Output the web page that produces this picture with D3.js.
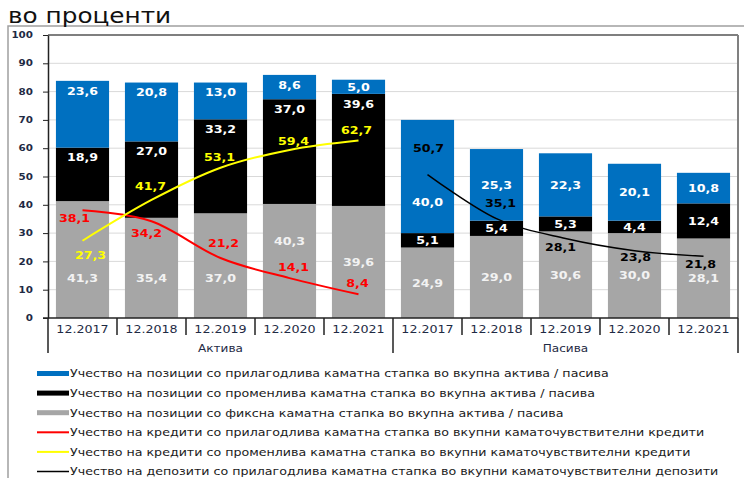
<!DOCTYPE html>
<html>
<head>
<meta charset="utf-8">
<script src="https://cdn.jsdelivr.net/npm/d3@7"></script>
<style>
  body { margin: 0; background: #fff; }
  svg { display: block; font-family: "DejaVu Sans", Verdana, sans-serif; }
</style>
</head>
<body>
<svg id="chart" width="744" height="478"></svg>
<script>
// categories
var periods = ["12.2017", "12.2018", "12.2019", "12.2020", "12.2021"]
var groups = ["Актива", "Пасива"]

// bars, assets
var fixedA = [41.3, 35.4, 37.0, 40.3, 39.6]
var variableA = [18.9, 27.0, 33.2, 37.0, 39.6]
var adjustableA = [23.6, 20.8, 13.0, 8.6, 5.0]
// bars, liabilities
var fixedP = [24.9, 29.0, 30.6, 30.0, 28.1]
var variableP = [5.1, 5.4, 5.3, 4.4, 12.4]
var adjustableP = [40.0, 25.3, 22.3, 20.1, 10.8]

// lines
var loansAdjustable = [38.1, 34.2, 21.2, 14.1, 8.4]
var loansVariable = [27.3, 41.7, 53.1, 59.4, 62.7]
var depositsAdjustable = [50.7, 35.1, 28.1, 23.8, 21.8]

var yTicks = [0, 10, 20, 30, 40, 50, 60, 70, 80, 90, 100]

var legendLabels = [
  "Учество на позиции со прилагодлива каматна стапка во вкупна актива / пасива",
  "Учество на позиции со променлива каматна стапка во вкупна актива / пасива",
  "Учество на позиции со фиксна каматна стапка во вкупна актива / пасива",
  "Учество на кредити со прилагодлива каматна стапка во вкупни каматочувствителни кредити",
  "Учество на кредити со променлива каматна стапка во вкупни каматочувствителни кредити",
  "Учество на депозити со прилагодлива каматна стапка во вкупни каматочувствителни депозити"
]

var colors = { fixed: "#a6a6a6", variable: "#000000", adjustable: "#0070c0" }

drawChart()

function drawChart() {
  var svg = d3.select("#chart")
  var SX = 1.15   // the source image is stretched a bit horizontally
  var plotLeft = 48, plotRight = 738, plotTop = 35, plotBottom = 318

  var fmt = function(v) { return d3.format(".1f")(v).replace(".", ",") }

  function txt(sel, x, y, str, size, weight, fill, anchor) {
    return sel.append("text")
      .attr("transform", "translate(" + x + "," + y + ") scale(" + SX + ",1)")
      .attr("text-anchor", anchor || "middle")
      .attr("dy", "0.35em")
      .style("font-size", size + "px")
      .style("font-weight", weight)
      .attr("fill", fill)
      .text(str)
  }

  var rows = []
  periods.forEach(function(p, i) {
    rows.push({ i: rows.length, group: 0, fixed: fixedA[i], variable: variableA[i], adjustable: adjustableA[i] })
  })
  periods.forEach(function(p, i) {
    rows.push({ i: rows.length, group: 1, fixed: fixedP[i], variable: variableP[i], adjustable: adjustableP[i] })
  })

  var xScale = d3.scaleBand().domain(d3.range(rows.length)).range([plotLeft, plotRight])
    .paddingInner(0.23).paddingOuter(0.115)
  var yScale = d3.scaleLinear().domain([0, 100]).range([plotBottom, plotTop])
  var step = xScale.step()
  var cx = function(i) { return xScale(i) + xScale.bandwidth() / 2 }

  // outer frame + title
  svg.append("path").attr("d", "M8,478 V26 H744").attr("fill", "none")
    .attr("stroke", "#a0a0a0").attr("stroke-width", 1.5)
  txt(svg, 8, 15, "во проценти", 21.5, "normal", "#111", "start")

  // grid
  svg.append("g").selectAll("line")
    .data(yTicks.filter(function(t) { return t > 0 && t < 100 }))
    .join("line")
    .attr("x1", plotLeft).attr("x2", plotRight)
    .attr("y1", function(d) { return yScale(d) }).attr("y2", function(d) { return yScale(d) })
    .attr("stroke", "#d9d9d9").attr("stroke-width", 1)

  // stacked bars
  var keys = ["fixed", "variable", "adjustable"]
  var series = d3.stack().keys(keys)(rows)

  svg.append("g").selectAll("g")
    .data(series)
    .join("g")
    .attr("fill", function(s) { return colors[s.key] })
    .selectAll("rect")
    .data(function(s) { return s })
    .join("rect")
    .attr("x", function(d) { return xScale(d.data.i) })
    .attr("width", xScale.bandwidth())
    .attr("y", function(d) { return yScale(d[1]) })
    .attr("height", function(d) { return yScale(d[0]) - yScale(d[1]) })

  // plot frame
  svg.append("line").attr("x1", plotLeft).attr("x2", plotRight).attr("y1", plotTop).attr("y2", plotTop)
    .attr("stroke", "#555").attr("stroke-width", 1.5)
  svg.append("line").attr("x1", plotRight).attr("x2", plotRight).attr("y1", plotTop).attr("y2", plotBottom)
    .attr("stroke", "#808080").attr("stroke-width", 2)

  // y axis
  var yAxis = svg.append("g")
    .attr("transform", "translate(" + plotLeft + ",0)")
    .call(d3.axisLeft(yScale).tickValues(yTicks).tickSize(5).tickSizeOuter(0).tickFormat(""))
  yAxis.select(".domain").attr("stroke", "#222").attr("stroke-width", 1.5)
  yAxis.selectAll(".tick line").attr("stroke", "#222")
  yTicks.forEach(function(t) {
    txt(svg, 33, yScale(t), String(t), 9, "bold", "#1e2a44", "end")
  })

  // x axis
  var xAxis = svg.append("g")
    .attr("transform", "translate(0," + plotBottom + ")")
    .call(d3.axisBottom(xScale).tickSize(0).tickSizeOuter(0).tickFormat(""))
  xAxis.select(".domain").attr("stroke", "#222").attr("stroke-width", 1.5)
    .attr("d", "M" + (plotLeft - 5) + ",0H" + plotRight)
  rows.forEach(function(r) {
    txt(svg, cx(r.i), 329, periods[r.i % 5], 11, "normal", "#1e2a44")
    var bx = xScale(r.i) - step * xScale.paddingInner() / 2
    var len = (r.i % 5 === 0) ? 35 : 17
    svg.append("line").attr("x1", bx).attr("x2", bx).attr("y1", plotBottom).attr("y2", plotBottom + len)
      .attr("stroke", "#222").attr("stroke-width", 1.5)
  })
  svg.append("line").attr("x1", plotRight).attr("x2", plotRight).attr("y1", plotBottom).attr("y2", plotBottom + 35)
    .attr("stroke", "#222").attr("stroke-width", 1.5)
  groups.forEach(function(g, k) {
    var x0 = xScale(k * 5) - step * xScale.paddingInner() / 2
    txt(svg, x0 + step * 2.5, 348, g, 10.5, "normal", "#1e2a44")
  })

  // bar labels
  var greyLabelA = [14, 14, 14, 27, 19.7]   // value height of the moved fixed labels (assets)
  series.forEach(function(s) {
    s.forEach(function(d) {
      var v = d.data[s.key]
      var y0 = yScale(d[0]), y1 = yScale(d[1])
      var ly = (y0 + y1) / 2
      if (d.data.group === 0) {
        if (s.key === "fixed") ly = yScale(greyLabelA[d.data.i])
        else ly = y1 + Math.min(10, (y0 - y1) / 2)
      } else if (s.key === "adjustable" && d.data.i === 5) {
        ly = yScale(41)
      }
      var fill = s.key === "fixed" ? "#f2f2f2" : "#ffffff"
      txt(svg, cx(d.data.i), ly, fmt(v), 11, "bold", fill)
    })
  })

  // lines
  var lines = [
    { values: loansAdjustable, offset: 0, color: "#ff0000", width: 2, label: "#ff0000",
      dl: [[-8, 8], [-5, 12], [3, -15], [4, -11], [-1, -11]] },
    { values: loansVariable, offset: 0, color: "#ffff00", width: 2, label: "#ffff00",
      dl: [[8, 14], [-1, -14], [-1, -11], [4, -9], [-2, -10]] },
    { values: depositsAdjustable, offset: 5, color: "#000000", width: 1.5, label: "#000000",
      dl: [[1, -26], [4, -16], [-5, 9], [1, 6], [-3, 8]] }
  ]
  var lineGen = d3.line()
    .x(function(d) { return cx(d.i) })
    .y(function(d) { return yScale(d.v) })
    .curve(d3.curveCardinal.tension(0))

  lines.forEach(function(L) {
    var pts = L.values.map(function(v, j) { return { i: j + L.offset, v: v } })
    svg.append("path").datum(pts)
      .attr("d", lineGen)
      .attr("fill", "none")
      .attr("stroke", L.color)
      .attr("stroke-width", L.width)
    pts.forEach(function(p, j) {
      txt(svg, cx(p.i) + L.dl[j][0], yScale(p.v) + L.dl[j][1], fmt(p.v), 11, "bold", L.label)
    })
  })

  // legend
  var legendKinds = [
    { c: colors.adjustable, h: 5 }, { c: colors.variable, h: 5 }, { c: colors.fixed, h: 5 },
    { c: "#ff0000", h: 2 }, { c: "#ffff00", h: 2 }, { c: "#000000", h: 1.5 }
  ]
  var legend = svg.append("g")
  legendLabels.forEach(function(lab, k) {
    var ly = 373.5 + k * 19.6
    legend.append("rect").attr("x", 37).attr("width", 32)
      .attr("y", ly - legendKinds[k].h / 2).attr("height", legendKinds[k].h)
      .attr("fill", legendKinds[k].c)
    txt(legend, 70, ly, lab, 11, "normal", "#1a1a1a", "start")
  })
}
</script>
</body>
</html>
